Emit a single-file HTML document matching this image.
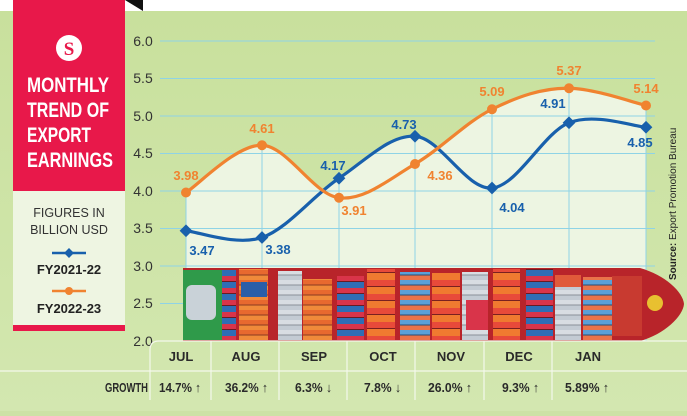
<!DOCTYPE html>
<html><head><meta charset="utf-8"><style>
html,body{margin:0;padding:0;}
body{width:687px;height:411px;overflow:hidden;background:#cde2a6;font-family:"Liberation Sans",sans-serif;}
</style></head><body>
<svg width="687" height="411" viewBox="0 0 687 411" xmlns="http://www.w3.org/2000/svg" font-family="Liberation Sans, sans-serif">
<defs>
<linearGradient id="bg" x1="0" y1="0" x2="0" y2="1"><stop offset="0" stop-color="#c8e09c"/><stop offset="1" stop-color="#d3e7b0"/></linearGradient>
<pattern id="pa" width="30" height="10" patternUnits="userSpaceOnUse"><rect width="30" height="10" fill="#e8692f"/><rect y="4.5" width="30" height="1" fill="#8a3a20"/><rect y="5.5" width="30" height="4.5" fill="#f08a3a"/></pattern>
<pattern id="pb" width="30" height="12" patternUnits="userSpaceOnUse"><rect width="30" height="12" fill="#d9344a"/><rect y="5" width="30" height="1" fill="#6a1a22"/><rect y="6" width="30" height="6" fill="#2f6db5"/></pattern>
<pattern id="pc" width="30" height="10" patternUnits="userSpaceOnUse"><rect width="30" height="10" fill="#d8dde2"/><rect y="4.5" width="30" height="1" fill="#8a9098"/><rect y="5.5" width="30" height="4.5" fill="#c3cbd3"/></pattern>
<pattern id="pd" width="30" height="14" patternUnits="userSpaceOnUse"><rect width="30" height="14" fill="#e84a3a"/><rect y="6" width="30" height="1" fill="#7a2020"/><rect y="7" width="30" height="7" fill="#f07a30"/></pattern>
<pattern id="pe" width="30" height="10" patternUnits="userSpaceOnUse"><rect width="30" height="10" fill="#5aa0d8"/><rect y="4.5" width="30" height="1" fill="#2a4a70"/><rect y="5.5" width="30" height="4.5" fill="#e9734a"/></pattern>
</defs>
<rect width="687" height="411" fill="url(#bg)"/>
<rect width="687" height="11" fill="#ffffff"/>
<polygon points="125,0 143,0 143,11" fill="#111"/>
<!-- fill under lines -->
<path d="M186,192.5 C198.7,184.6 236.5,144.4 262,145.25 C287.5,146.1 313.5,194.6 339,197.75 C364.5,200.9 389.5,178.75 415,164 C440.5,149.25 466.3,121.9 492,109.25 C517.7,96.6 543.3,87.6 569,88.25 C594.7,88.6 633.2,102.6 646,105.5 L646,341 L186,341 Z" fill="#edf5e2"/>
<path d="M186,230.75 C198.7,231.9 236.5,246.25 262,237.5 C287.5,228.75 313.5,195.1 339,178.25 C364.5,161.4 389.5,134.6 415,136.25 C440.5,137.9 466.3,190.25 492,188 L492,341 L186,341 Z" fill="#edf5e2"/>
<!-- grid -->
<g stroke="#8fd3e6" stroke-width="1">
<line x1="160" y1="41" x2="655" y2="41"/><line x1="160" y1="78.5" x2="655" y2="78.5"/><line x1="160" y1="116" x2="655" y2="116"/><line x1="160" y1="153.5" x2="655" y2="153.5"/><line x1="160" y1="191" x2="655" y2="191"/><line x1="160" y1="228.5" x2="655" y2="228.5"/><line x1="160" y1="266" x2="655" y2="266"/><line x1="160" y1="303.5" x2="655" y2="303.5"/>
<line x1="186" y1="191" x2="186" y2="341"/><line x1="262" y1="145" x2="262" y2="341"/><line x1="339" y1="178" x2="339" y2="341"/><line x1="415" y1="136" x2="415" y2="341"/><line x1="492" y1="109" x2="492" y2="341"/><line x1="569" y1="88" x2="569" y2="341"/><line x1="646" y1="105" x2="646" y2="341"/>
</g>
<g font-size="14" fill="#333" text-anchor="middle">
<text x="143" y="46">6.0</text><text x="143" y="83">5.5</text><text x="143" y="121">5.0</text><text x="143" y="158">4.5</text><text x="143" y="196">4.0</text><text x="143" y="233">3.5</text><text x="143" y="271">3.0</text><text x="143" y="308">2.5</text><text x="143" y="346">2.0</text>
</g>
<!-- ship -->
<g>
<path d="M183,268 L640,268 C665,275 683,292 684,304 C683,316 665,334 640,341 L183,341 Z" fill="#b8242a"/>
<rect x="183" y="270" width="40" height="70" fill="#2f9a4a"/>
<rect x="186" y="285" width="30" height="35" rx="6" fill="#c9d2d8"/>
<rect x="222" y="270" width="14" height="70" fill="url(#pb)"/>
<rect x="239" y="269" width="29" height="71" fill="url(#pa)"/>
<rect x="241" y="282" width="26" height="15" fill="#2a5ea8"/>
<rect x="278" y="271" width="24" height="69" fill="url(#pc)"/>
<rect x="303" y="279" width="29" height="61" fill="url(#pa)"/>
<rect x="337" y="276" width="27" height="64" fill="url(#pb)"/>
<rect x="367" y="269" width="28" height="71" fill="url(#pd)"/>
<rect x="400" y="272" width="30" height="68" fill="url(#pe)"/>
<rect x="432" y="273" width="28" height="67" fill="url(#pd)"/>
<rect x="462" y="272" width="26" height="68" fill="url(#pc)"/>
<rect x="466" y="300" width="22" height="30" fill="#d9344a"/>
<rect x="493" y="269" width="27" height="71" fill="url(#pd)"/>
<rect x="526" y="269" width="27" height="71" fill="url(#pb)"/>
<rect x="555" y="280" width="26" height="60" fill="url(#pc)"/>
<rect x="555" y="275" width="26" height="12" fill="#e05a3a"/>
<rect x="583" y="277" width="29" height="63" fill="url(#pe)"/>
<rect x="612" y="276" width="30" height="60" fill="#c83a30"/>
<circle cx="655" cy="303" r="8" fill="#e8c030"/>
</g>
<!-- lines -->
<path d="M186,230.75 C198.7,231.9 236.5,246.25 262,237.5 C287.5,228.75 313.5,195.1 339,178.25 C364.5,161.4 389.5,134.6 415,136.25 C440.5,137.9 466.3,190.25 492,188 C517.7,185.75 543.3,132.9 569,122.75 C594.7,112.6 633.2,126.5 646,127.25" fill="none" stroke="#1860ac" stroke-width="3.2"/>
<path d="M186,192.5 C198.7,184.6 236.5,144.4 262,145.25 C287.5,146.1 313.5,194.6 339,197.75 C364.5,200.9 389.5,178.75 415,164 C440.5,149.25 466.3,121.9 492,109.25 C517.7,96.6 543.3,87.6 569,88.25 C594.7,88.6 633.2,102.6 646,105.5" fill="none" stroke="#f08330" stroke-width="3.2"/>
<g fill="#1860ac">
<rect x="181.5" y="226.25" width="9" height="9" transform="rotate(45 186 230.75)"/>
<rect x="257.5" y="233" width="9" height="9" transform="rotate(45 262 237.5)"/>
<rect x="334.5" y="173.75" width="9" height="9" transform="rotate(45 339 178.25)"/>
<rect x="410.5" y="131.75" width="9" height="9" transform="rotate(45 415 136.25)"/>
<rect x="487.5" y="183.5" width="9" height="9" transform="rotate(45 492 188)"/>
<rect x="564.5" y="118.25" width="9" height="9" transform="rotate(45 569 122.75)"/>
<rect x="641.5" y="122.75" width="9" height="9" transform="rotate(45 646 127.25)"/>
</g>
<g fill="#f08330">
<circle cx="186" cy="192.5" r="5"/><circle cx="262" cy="145.25" r="5"/><circle cx="339" cy="197.75" r="5"/><circle cx="415" cy="164" r="5"/><circle cx="492" cy="109.25" r="5"/><circle cx="569" cy="88.25" r="5"/><circle cx="646" cy="105.5" r="5"/>
</g>
<g font-size="13" font-weight="bold" text-anchor="middle" fill="#f08330">
<text x="186" y="180">3.98</text><text x="262" y="133">4.61</text><text x="354" y="215">3.91</text><text x="440" y="180">4.36</text><text x="492" y="96">5.09</text><text x="569" y="75">5.37</text><text x="646" y="93">5.14</text>
</g>
<g font-size="13" font-weight="bold" text-anchor="middle" fill="#1860ac">
<text x="202" y="255">3.47</text><text x="278" y="254">3.38</text><text x="333" y="170">4.17</text><text x="404" y="129">4.73</text><text x="512" y="212">4.04</text><text x="553" y="108">4.91</text><text x="640" y="147">4.85</text>
</g>
<text transform="translate(676,280) rotate(-90)" font-size="10" fill="#222"><tspan font-weight="bold">Source:</tspan> Export Promotion Bureau</text>
<!-- bottom table -->
<g stroke="#f4f8ec" stroke-width="1.2" fill="none">
<path d="M150,400 L150,350 Q150,341 159,341 L687,341"/>
<line x1="0" y1="371" x2="687" y2="371"/>
<line x1="211" y1="341" x2="211" y2="400"/><line x1="279" y1="341" x2="279" y2="400"/><line x1="347" y1="341" x2="347" y2="400"/><line x1="415" y1="341" x2="415" y2="400"/><line x1="484" y1="341" x2="484" y2="400"/><line x1="552" y1="341" x2="552" y2="400"/>
</g>
<g font-size="13" font-weight="bold" fill="#2a2a2a" text-anchor="middle">
<text x="181" y="361">JUL</text><text x="246" y="361">AUG</text><text x="314" y="361">SEP</text><text x="383" y="361">OCT</text><text x="451" y="361">NOV</text><text x="519" y="361">DEC</text><text x="588" y="361">JAN</text>
</g>
<g font-size="13" font-weight="bold" fill="#2a2a2a">
<text x="105" y="392" textLength="43" lengthAdjust="spacingAndGlyphs">GROWTH</text>
<text x="159" y="392" textLength="42" lengthAdjust="spacingAndGlyphs">14.7% ↑</text>
<text x="225" y="392" textLength="43" lengthAdjust="spacingAndGlyphs">36.2% ↑</text>
<text x="295" y="392" textLength="37" lengthAdjust="spacingAndGlyphs">6.3% ↓</text>
<text x="364" y="392" textLength="37" lengthAdjust="spacingAndGlyphs">7.8% ↓</text>
<text x="428" y="392" textLength="44" lengthAdjust="spacingAndGlyphs">26.0% ↑</text>
<text x="502" y="392" textLength="37" lengthAdjust="spacingAndGlyphs">9.3% ↑</text>
<text x="565" y="392" textLength="44" lengthAdjust="spacingAndGlyphs">5.89% ↑</text>
</g>
<!-- left panel -->
<rect x="13" y="0" width="112" height="191" fill="#e8184a"/>
<rect x="13" y="191" width="112" height="134" fill="#eef5e2"/>
<rect x="13" y="325" width="112" height="6" fill="#e8184a"/>
<circle cx="69" cy="48" r="13" fill="#fff"/>
<text x="69" y="55" font-size="19" font-weight="bold" fill="#e8184a" text-anchor="middle" font-family="Liberation Serif, serif">S</text>
<g font-size="21" font-weight="bold" fill="#fff">
<text x="27" y="92" textLength="82" lengthAdjust="spacingAndGlyphs">MONTHLY</text>
<text x="27" y="117" textLength="82" lengthAdjust="spacingAndGlyphs">TREND OF</text>
<text x="27" y="142" textLength="64" lengthAdjust="spacingAndGlyphs">EXPORT</text>
<text x="27" y="167" textLength="86" lengthAdjust="spacingAndGlyphs">EARNINGS</text>
</g>
<g font-size="12.5" fill="#333" text-anchor="middle">
<text x="69" y="217">FIGURES IN</text><text x="69" y="234">BILLION USD</text>
</g>
<line x1="52" y1="253" x2="86" y2="253" stroke="#1860ac" stroke-width="2.5"/>
<rect x="65.5" y="249.5" width="7" height="7" fill="#1860ac" transform="rotate(45 69 253)"/>
<text x="69" y="274" font-size="13" font-weight="bold" fill="#222" text-anchor="middle">FY2021-22</text>
<line x1="52" y1="291" x2="86" y2="291" stroke="#f08330" stroke-width="2.5"/>
<circle cx="69" cy="291" r="4" fill="#f08330"/>
<text x="69" y="313" font-size="13" font-weight="bold" fill="#222" text-anchor="middle">FY2022-23</text>
</svg>
</body></html>
